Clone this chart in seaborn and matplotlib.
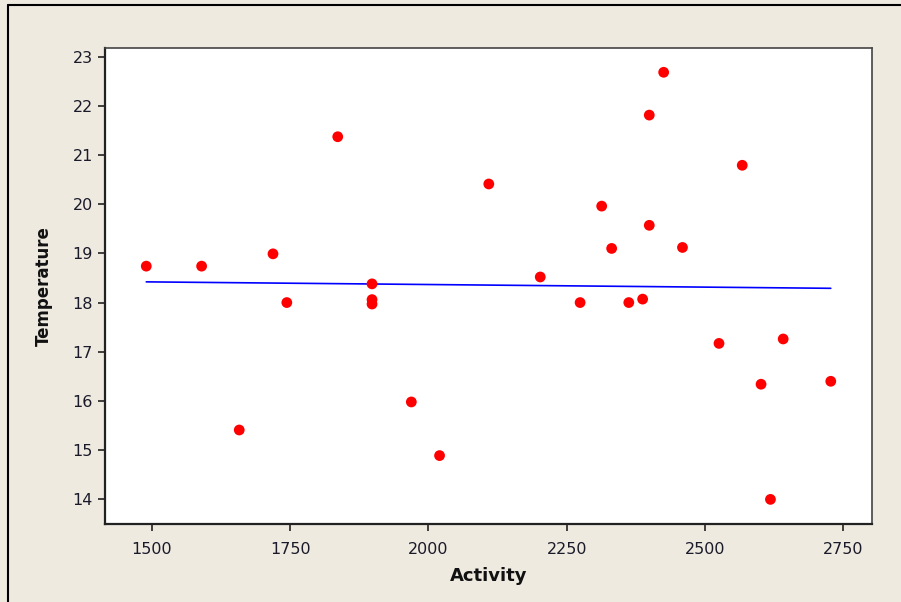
import matplotlib
matplotlib.use("Agg")
import matplotlib.pyplot as plt
import seaborn as sns
import pandas as pd
from matplotlib.lines import Line2D

activity = [1490, 1590, 1658, 1719, 1744, 1836, 1898, 1898, 1898, 1969, 2020,
            2109, 2202, 2274, 2313, 2331, 2362, 2387, 2399, 2399, 2425, 2459,
            2525, 2567, 2601, 2618, 2641, 2727]
temperature = [18.74, 18.74, 15.41, 18.99, 18.00, 21.37, 18.38, 18.06, 17.97, 15.98, 14.89,
               20.41, 18.52, 18.00, 19.96, 19.10, 18.00, 18.07, 21.81, 19.57, 22.68, 19.12,
               17.17, 20.79, 16.34, 14.00, 17.26, 16.40]
x_ticks = [1500, 1750, 2000, 2250, 2500, 2750]
y_ticks = [14, 15, 16, 17, 18, 19, 20, 21, 22, 23]

df = pd.DataFrame({"Activity": activity, "Temperature": temperature})

sns.set_style("white")
plt.rcParams['font.family'] = ['DejaVu Sans']

bg = "#EEEAE0"
fig = plt.figure(figsize=(9.01, 6.02), dpi=100, facecolor=bg)
ax = fig.add_axes([0.1169, 0.1296, 0.8506, 0.7912])
ax.set_facecolor("white")

sns.regplot(data=df, x="Activity", y="Temperature", scatter=False, ci=None,
            truncate=True, color="#0000FF", line_kws={"linewidth": 1.2}, ax=ax)
sns.scatterplot(data=df, x="Activity", y="Temperature", color="#FF0000",
                s=60, edgecolor="none", ax=ax, zorder=3)

ax.set_xlim(1416, 2801)
ax.set_ylim(13.5, 23.18)
ax.set_xticks(x_ticks)
ax.set_yticks(y_ticks)
ax.tick_params(axis="both", which="major", direction="out", length=5, width=1.2,
               color="#222222", labelsize=11.5, labelcolor="#1a1a2a", bottom=True, left=True)
ax.tick_params(axis="x", pad=8)
ax.tick_params(axis="y", pad=4)
for side in ["left", "bottom"]:
    ax.spines[side].set_color("#222222")
    ax.spines[side].set_linewidth(1.6)
for side in ["top", "right"]:
    ax.spines[side].set_color("#444444")
    ax.spines[side].set_linewidth(1.2)

ax.set_xlabel("Activity", fontsize=13, fontweight="bold", color="#111111", labelpad=7)
ax.set_ylabel("Temperature", fontsize=12, fontweight="bold", color="#111111", labelpad=14)

# outer frame lines (left and top)
fig.add_artist(Line2D([7.5/901, 7.5/901], [0, 1 - 5/602], transform=fig.transFigure,
                      color="black", linewidth=1.5))
fig.add_artist(Line2D([7.5/901, 1], [1 - 5/602, 1 - 5/602], transform=fig.transFigure,
                      color="black", linewidth=1.5))

fig.savefig("out.png", dpi=100, facecolor=bg)
